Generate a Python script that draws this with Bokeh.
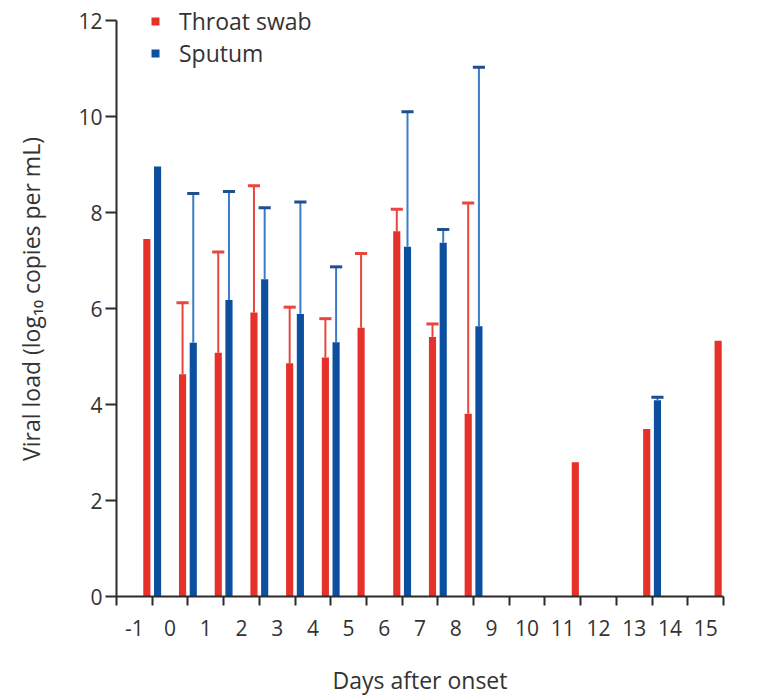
import numpy as np
from bokeh.plotting import figure
from bokeh.models import FixedTicker, Legend, LegendItem, Range1d
from bokeh.embed import file_html
from bokeh.resources import INLINE

# ---- data ----
day_labels = ["-1", "0", "1", "2", "3", "4", "5", "6", "7", "8", "9", "10", "11", "12", "13", "14", "15"]
days = [-1, 0, 1, 2, 3, 4, 5, 6, 7, 8, 9, 10, 11, 12, 13, 14, 15]

throat_days = [-1, 0, 1, 2, 3, 4, 5, 6, 7, 8, 11, 13, 15]
throat_vals = [7.45, 4.63, 5.08, 5.92, 4.86, 4.98, 5.60, 7.61, 5.41, 3.81, 2.80, 3.49, 5.33]
throat_err_days = [0, 1, 2, 3, 4, 5, 6, 7, 8]
throat_err_upper = [6.12, 7.18, 8.56, 6.03, 5.79, 7.15, 8.07, 5.68, 8.20]

sputum_days = [-1, 0, 1, 2, 3, 4, 6, 7, 8, 13]
sputum_vals = [8.96, 5.29, 6.18, 6.61, 5.89, 5.30, 7.29, 7.37, 5.63, 4.09]
sputum_err_days = [0, 1, 2, 3, 4, 6, 7, 8, 13]
sputum_err_upper = [8.40, 8.44, 8.10, 8.22, 6.87, 10.10, 7.65, 11.03, 4.15]

y_ticks = [0, 2, 4, 6, 8, 10, 12]

# ---- style ----
RED = "#E6302A"
BLUE = "#0B4F9E"
RED_ERR = "#E8463E"
BLUE_ERR = "#3B7CC6"
AXIS = "#2b2b2b"
TXT = "#333333"
FONT = "Open Sans"
OFF = 0.15
BW = 0.2
CAP = 0.17

p = figure(width=773, height=698, output_backend="svg", toolbar_location=None,
           x_range=Range1d(-2, 15), y_range=Range1d(0, 12.4),
           min_border_left=116, min_border_right=50, min_border_top=1, min_border_bottom=97)
p.outline_line_color = None
p.xgrid.visible = False
p.ygrid.visible = False
p.background_fill_color = "white"
p.border_fill_color = "white"

def val_at(days_list, vals_list, d):
    return vals_list[days_list.index(d)]

# throat bars
tx = np.array(throat_days) - OFF
r1 = p.vbar(x=tx, top=throat_vals, width=BW, bottom=0, fill_color=RED, line_color=None)
tex = np.array(throat_err_days) - OFF
tbase = [val_at(throat_days, throat_vals, d) for d in throat_err_days]
p.segment(x0=tex, y0=tbase, x1=tex, y1=throat_err_upper, line_color=RED_ERR, line_width=2)
p.segment(x0=tex - CAP, y0=throat_err_upper, x1=tex + CAP, y1=throat_err_upper, line_color=RED_ERR, line_width=3)

# sputum bars
sx = np.array(sputum_days) + OFF
r2 = p.vbar(x=sx, top=sputum_vals, width=BW, bottom=0, fill_color=BLUE, line_color=None)
sex = np.array(sputum_err_days) + OFF
sbase = [val_at(sputum_days, sputum_vals, d) for d in sputum_err_days]
p.segment(x0=sex, y0=sbase, x1=sex, y1=sputum_err_upper, line_color=BLUE_ERR, line_width=2)
p.segment(x0=sex - CAP, y0=sputum_err_upper, x1=sex + CAP, y1=sputum_err_upper, line_color="#1F4F8C", line_width=3)

# x axis: boundary ticks at integers, labels shifted half a step left
xa = p.xaxis[0]
label_pos = [d - 0.5 for d in days]
xa.ticker = FixedTicker(ticks=label_pos, minor_ticks=list(range(-2, 16)))
xa.major_label_overrides = {lp: lab for lp, lab in zip(label_pos, day_labels)}
xa.major_tick_out = 0
xa.major_tick_in = 0
xa.minor_tick_out = 9
xa.minor_tick_in = 0
xa.minor_tick_line_width = 2
xa.minor_tick_line_color = AXIS
xa.axis_line_width = 2
xa.axis_line_color = AXIS
xa.major_label_text_font = FONT
xa.major_label_text_font_size = "21px"
xa.major_label_text_color = TXT
xa.major_label_standoff = 14
xa.axis_label = "Days after onset"
xa.axis_label_text_font = FONT
xa.axis_label_text_font_size = "23px"
xa.axis_label_text_font_style = "normal"
xa.axis_label_text_color = TXT
xa.axis_label_standoff = 25

ya = p.yaxis[0]
ya.ticker = FixedTicker(ticks=y_ticks)
ya.bounds = (0, 12)
ya.major_tick_out = 11
ya.major_tick_in = 0
ya.minor_tick_out = 0
ya.minor_tick_in = 0
ya.major_tick_line_width = 2
ya.major_tick_line_color = AXIS
ya.axis_line_width = 2
ya.axis_line_color = AXIS
ya.major_label_text_font = FONT
ya.major_label_text_font_size = "21px"
ya.major_label_text_color = TXT
ya.major_label_standoff = 3
ya.axis_label = "Viral load (log\u2081\u2080 copies per mL)"
ya.axis_label_text_font = FONT
ya.axis_label_text_font_size = "23px"
ya.axis_label_text_font_style = "normal"
ya.axis_label_text_color = TXT
ya.axis_label_standoff = 28

legend = Legend(items=[LegendItem(label="Throat swab", renderers=[r1]),
                       LegendItem(label="Sputum", renderers=[r2])],
                location=(34, 527), orientation="vertical")
legend.border_line_color = None
legend.background_fill_alpha = 0
legend.padding = 0
legend.margin = 0
legend.spacing = 0
legend.glyph_width = 10
legend.glyph_height = 10
legend.label_height = 24
legend.label_standoff = 19
legend.label_text_font = FONT
legend.label_text_font_size = "23px"
legend.label_text_color = TXT
p.add_layout(legend)

open("out.html", "w").write(file_html(p, INLINE))
